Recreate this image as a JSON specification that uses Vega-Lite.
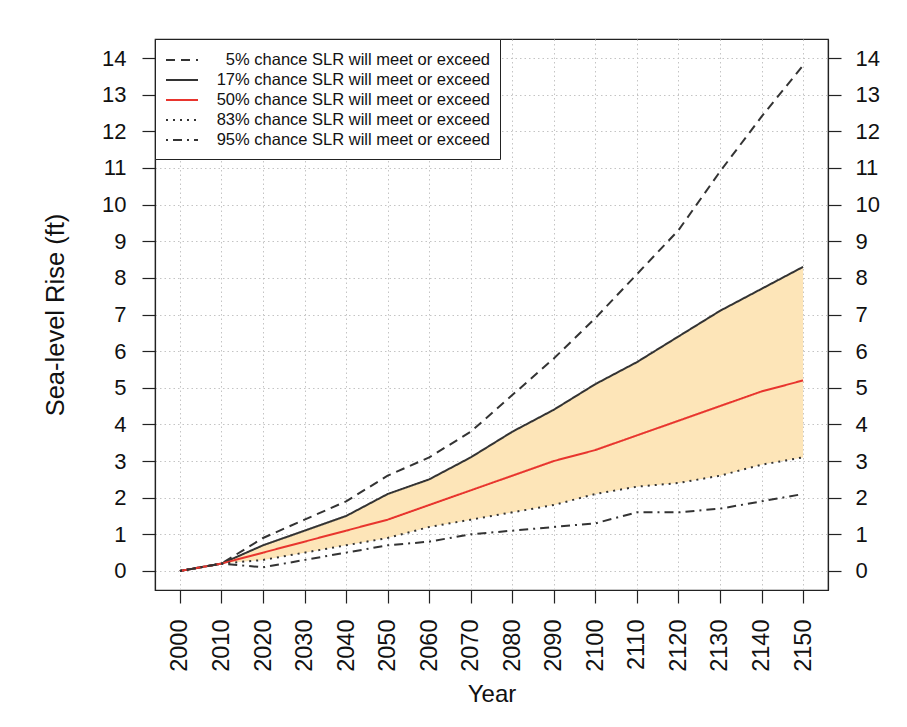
{
  "$schema": "https://vega.github.io/schema/vega-lite/v6.json",
  "width": 673,
  "height": 551,
  "autosize": {"type": "none"},
  "padding": {"left": 155, "top": 39, "right": 79, "bottom": 137},
  "background": "white",
  "config": {
    "font": "Liberation Sans",
    "view": {"stroke": "#222222", "strokeWidth": 1.2}
  },
  "data": {
    "values": [
      {"year": 2000, "5% chance SLR will meet or exceed": 0, "17% chance SLR will meet or exceed": 0, "50% chance SLR will meet or exceed": 0, "83% chance SLR will meet or exceed": 0, "95% chance SLR will meet or exceed": 0},
      {"year": 2010, "5% chance SLR will meet or exceed": 0.2, "17% chance SLR will meet or exceed": 0.2, "50% chance SLR will meet or exceed": 0.2, "83% chance SLR will meet or exceed": 0.2, "95% chance SLR will meet or exceed": 0.2},
      {"year": 2020, "5% chance SLR will meet or exceed": 0.9, "17% chance SLR will meet or exceed": 0.7, "50% chance SLR will meet or exceed": 0.5, "83% chance SLR will meet or exceed": 0.3, "95% chance SLR will meet or exceed": 0.1},
      {"year": 2030, "5% chance SLR will meet or exceed": 1.4, "17% chance SLR will meet or exceed": 1.1, "50% chance SLR will meet or exceed": 0.8, "83% chance SLR will meet or exceed": 0.5, "95% chance SLR will meet or exceed": 0.3},
      {"year": 2040, "5% chance SLR will meet or exceed": 1.9, "17% chance SLR will meet or exceed": 1.5, "50% chance SLR will meet or exceed": 1.1, "83% chance SLR will meet or exceed": 0.7, "95% chance SLR will meet or exceed": 0.5},
      {"year": 2050, "5% chance SLR will meet or exceed": 2.6, "17% chance SLR will meet or exceed": 2.1, "50% chance SLR will meet or exceed": 1.4, "83% chance SLR will meet or exceed": 0.9, "95% chance SLR will meet or exceed": 0.7},
      {"year": 2060, "5% chance SLR will meet or exceed": 3.1, "17% chance SLR will meet or exceed": 2.5, "50% chance SLR will meet or exceed": 1.8, "83% chance SLR will meet or exceed": 1.2, "95% chance SLR will meet or exceed": 0.8},
      {"year": 2070, "5% chance SLR will meet or exceed": 3.8, "17% chance SLR will meet or exceed": 3.1, "50% chance SLR will meet or exceed": 2.2, "83% chance SLR will meet or exceed": 1.4, "95% chance SLR will meet or exceed": 1.0},
      {"year": 2080, "5% chance SLR will meet or exceed": 4.8, "17% chance SLR will meet or exceed": 3.8, "50% chance SLR will meet or exceed": 2.6, "83% chance SLR will meet or exceed": 1.6, "95% chance SLR will meet or exceed": 1.1},
      {"year": 2090, "5% chance SLR will meet or exceed": 5.8, "17% chance SLR will meet or exceed": 4.4, "50% chance SLR will meet or exceed": 3.0, "83% chance SLR will meet or exceed": 1.8, "95% chance SLR will meet or exceed": 1.2},
      {"year": 2100, "5% chance SLR will meet or exceed": 6.9, "17% chance SLR will meet or exceed": 5.1, "50% chance SLR will meet or exceed": 3.3, "83% chance SLR will meet or exceed": 2.1, "95% chance SLR will meet or exceed": 1.3},
      {"year": 2110, "5% chance SLR will meet or exceed": 8.1, "17% chance SLR will meet or exceed": 5.7, "50% chance SLR will meet or exceed": 3.7, "83% chance SLR will meet or exceed": 2.3, "95% chance SLR will meet or exceed": 1.6},
      {"year": 2120, "5% chance SLR will meet or exceed": 9.3, "17% chance SLR will meet or exceed": 6.4, "50% chance SLR will meet or exceed": 4.1, "83% chance SLR will meet or exceed": 2.4, "95% chance SLR will meet or exceed": 1.6},
      {"year": 2130, "5% chance SLR will meet or exceed": 10.9, "17% chance SLR will meet or exceed": 7.1, "50% chance SLR will meet or exceed": 4.5, "83% chance SLR will meet or exceed": 2.6, "95% chance SLR will meet or exceed": 1.7},
      {"year": 2140, "5% chance SLR will meet or exceed": 12.4, "17% chance SLR will meet or exceed": 7.7, "50% chance SLR will meet or exceed": 4.9, "83% chance SLR will meet or exceed": 2.9, "95% chance SLR will meet or exceed": 1.9},
      {"year": 2150, "5% chance SLR will meet or exceed": 13.8, "17% chance SLR will meet or exceed": 8.3, "50% chance SLR will meet or exceed": 5.2, "83% chance SLR will meet or exceed": 3.1, "95% chance SLR will meet or exceed": 2.1}
    ]
  },
  "encoding": {
    "x": {
      "field": "year", "type": "quantitative",
      "scale": {"domain": [1994, 2156], "nice": false, "zero": false},
      "axis": {
        "orient": "bottom",
        "values": [2000, 2010, 2020, 2030, 2040, 2050, 2060, 2070, 2080, 2090, 2100, 2110, 2120, 2130, 2140, 2150],
        "format": "d", "labelAngle": 270, "labelFontSize": 23.5, "labelColor": "#111111",
        "labelPadding": 16, "tickSize": 13, "tickColor": "#222222", "tickWidth": 1.2,
        "domainColor": "#222222", "domainWidth": 1.2,
        "grid": true, "gridColor": "#c4c4c4", "gridDash": [1.5, 3], "gridWidth": 1,
        "labelOverlap": false, "labelBound": false, "labelFlush": false,
        "title": "Year", "titleFontSize": 24, "titleFontWeight": "normal", "titleColor": "#111111", "titlePadding": 11
      }
    }
  },
  "resolve": {"axis": {"y": "independent"}},
  "layer": [
    {
      "mark": {"type": "area", "color": "#fde5b8", "opacity": 1},
      "encoding": {
        "y": {
          "field": "83% chance SLR will meet or exceed", "type": "quantitative",
          "scale": {"domain": [-0.52, 14.52], "nice": false, "zero": false},
          "axis": {
            "orient": "left",
            "values": [0, 1, 2, 3, 4, 5, 6, 7, 8, 9, 10, 11, 12, 13, 14],
            "format": "d", "labelFontSize": 22, "labelColor": "#111111",
            "labelPadding": 16, "tickSize": 13, "tickColor": "#222222", "tickWidth": 1.2,
            "domainColor": "#222222", "domainWidth": 1.2,
            "grid": true, "gridColor": "#c4c4c4", "gridDash": [1.5, 3], "gridWidth": 1,
            "labelOverlap": false, "labelFlush": false,
            "title": "Sea-level Rise (ft)", "titleFontSize": 25.5, "titleFontWeight": "normal", "titleColor": "#111111", "titlePadding": 33
          }
        },
        "y2": {"field": "17% chance SLR will meet or exceed"}
      }
    },
    {
      "transform": [
        {"fold": ["5% chance SLR will meet or exceed", "17% chance SLR will meet or exceed", "50% chance SLR will meet or exceed", "83% chance SLR will meet or exceed", "95% chance SLR will meet or exceed"], "as": ["series", "value"]}
      ],
      "mark": {"type": "line", "strokeWidth": 2},
      "encoding": {
        "y": {
          "field": "value", "type": "quantitative",
          "axis": {
            "orient": "right",
            "values": [0, 1, 2, 3, 4, 5, 6, 7, 8, 9, 10, 11, 12, 13, 14],
            "format": "d", "labelFontSize": 22, "labelColor": "#111111",
            "labelPadding": 14, "tickSize": 13, "tickColor": "#222222", "tickWidth": 1.2,
            "domainColor": "#222222", "domainWidth": 1.2,
            "grid": false, "labelOverlap": false, "labelFlush": false,
            "title": null
          }
        },
        "color": {
          "field": "series", "type": "nominal",
          "scale": {
            "domain": ["5% chance SLR will meet or exceed", "17% chance SLR will meet or exceed", "50% chance SLR will meet or exceed", "83% chance SLR will meet or exceed", "95% chance SLR will meet or exceed"],
            "range": ["#333333", "#333333", "#e8352e", "#333333", "#333333"]
          },
          "legend": {
            "title": null, "orient": "top-left", "offset": 0, "padding": 10,
            "strokeColor": "#222222", "fillColor": "white",
            "labelFontSize": 16.5, "labelColor": "#111111", "labelAlign": "right", "labelOffset": 303, "labelLimit": 600,
            "symbolType": "M-1,0H2.2", "symbolSize": 400, "symbolStrokeWidth": 2, "rowPadding": 0
          }
        },
        "strokeDash": {
          "field": "series", "type": "nominal",
          "scale": {
            "domain": ["5% chance SLR will meet or exceed", "17% chance SLR will meet or exceed", "50% chance SLR will meet or exceed", "83% chance SLR will meet or exceed", "95% chance SLR will meet or exceed"],
            "range": [[9, 6], [1, 0], [1, 0], [2, 5], [2, 5, 9, 5]]
          },
          "legend": {
            "title": null, "orient": "top-left", "offset": 0, "padding": 10,
            "strokeColor": "#222222", "fillColor": "white",
            "labelFontSize": 16.5, "labelColor": "#111111", "labelAlign": "right", "labelOffset": 303, "labelLimit": 600,
            "symbolType": "M-1,0H2.2", "symbolSize": 400, "symbolStrokeWidth": 2, "rowPadding": 0
          }
        }
      }
    }
  ]
}
